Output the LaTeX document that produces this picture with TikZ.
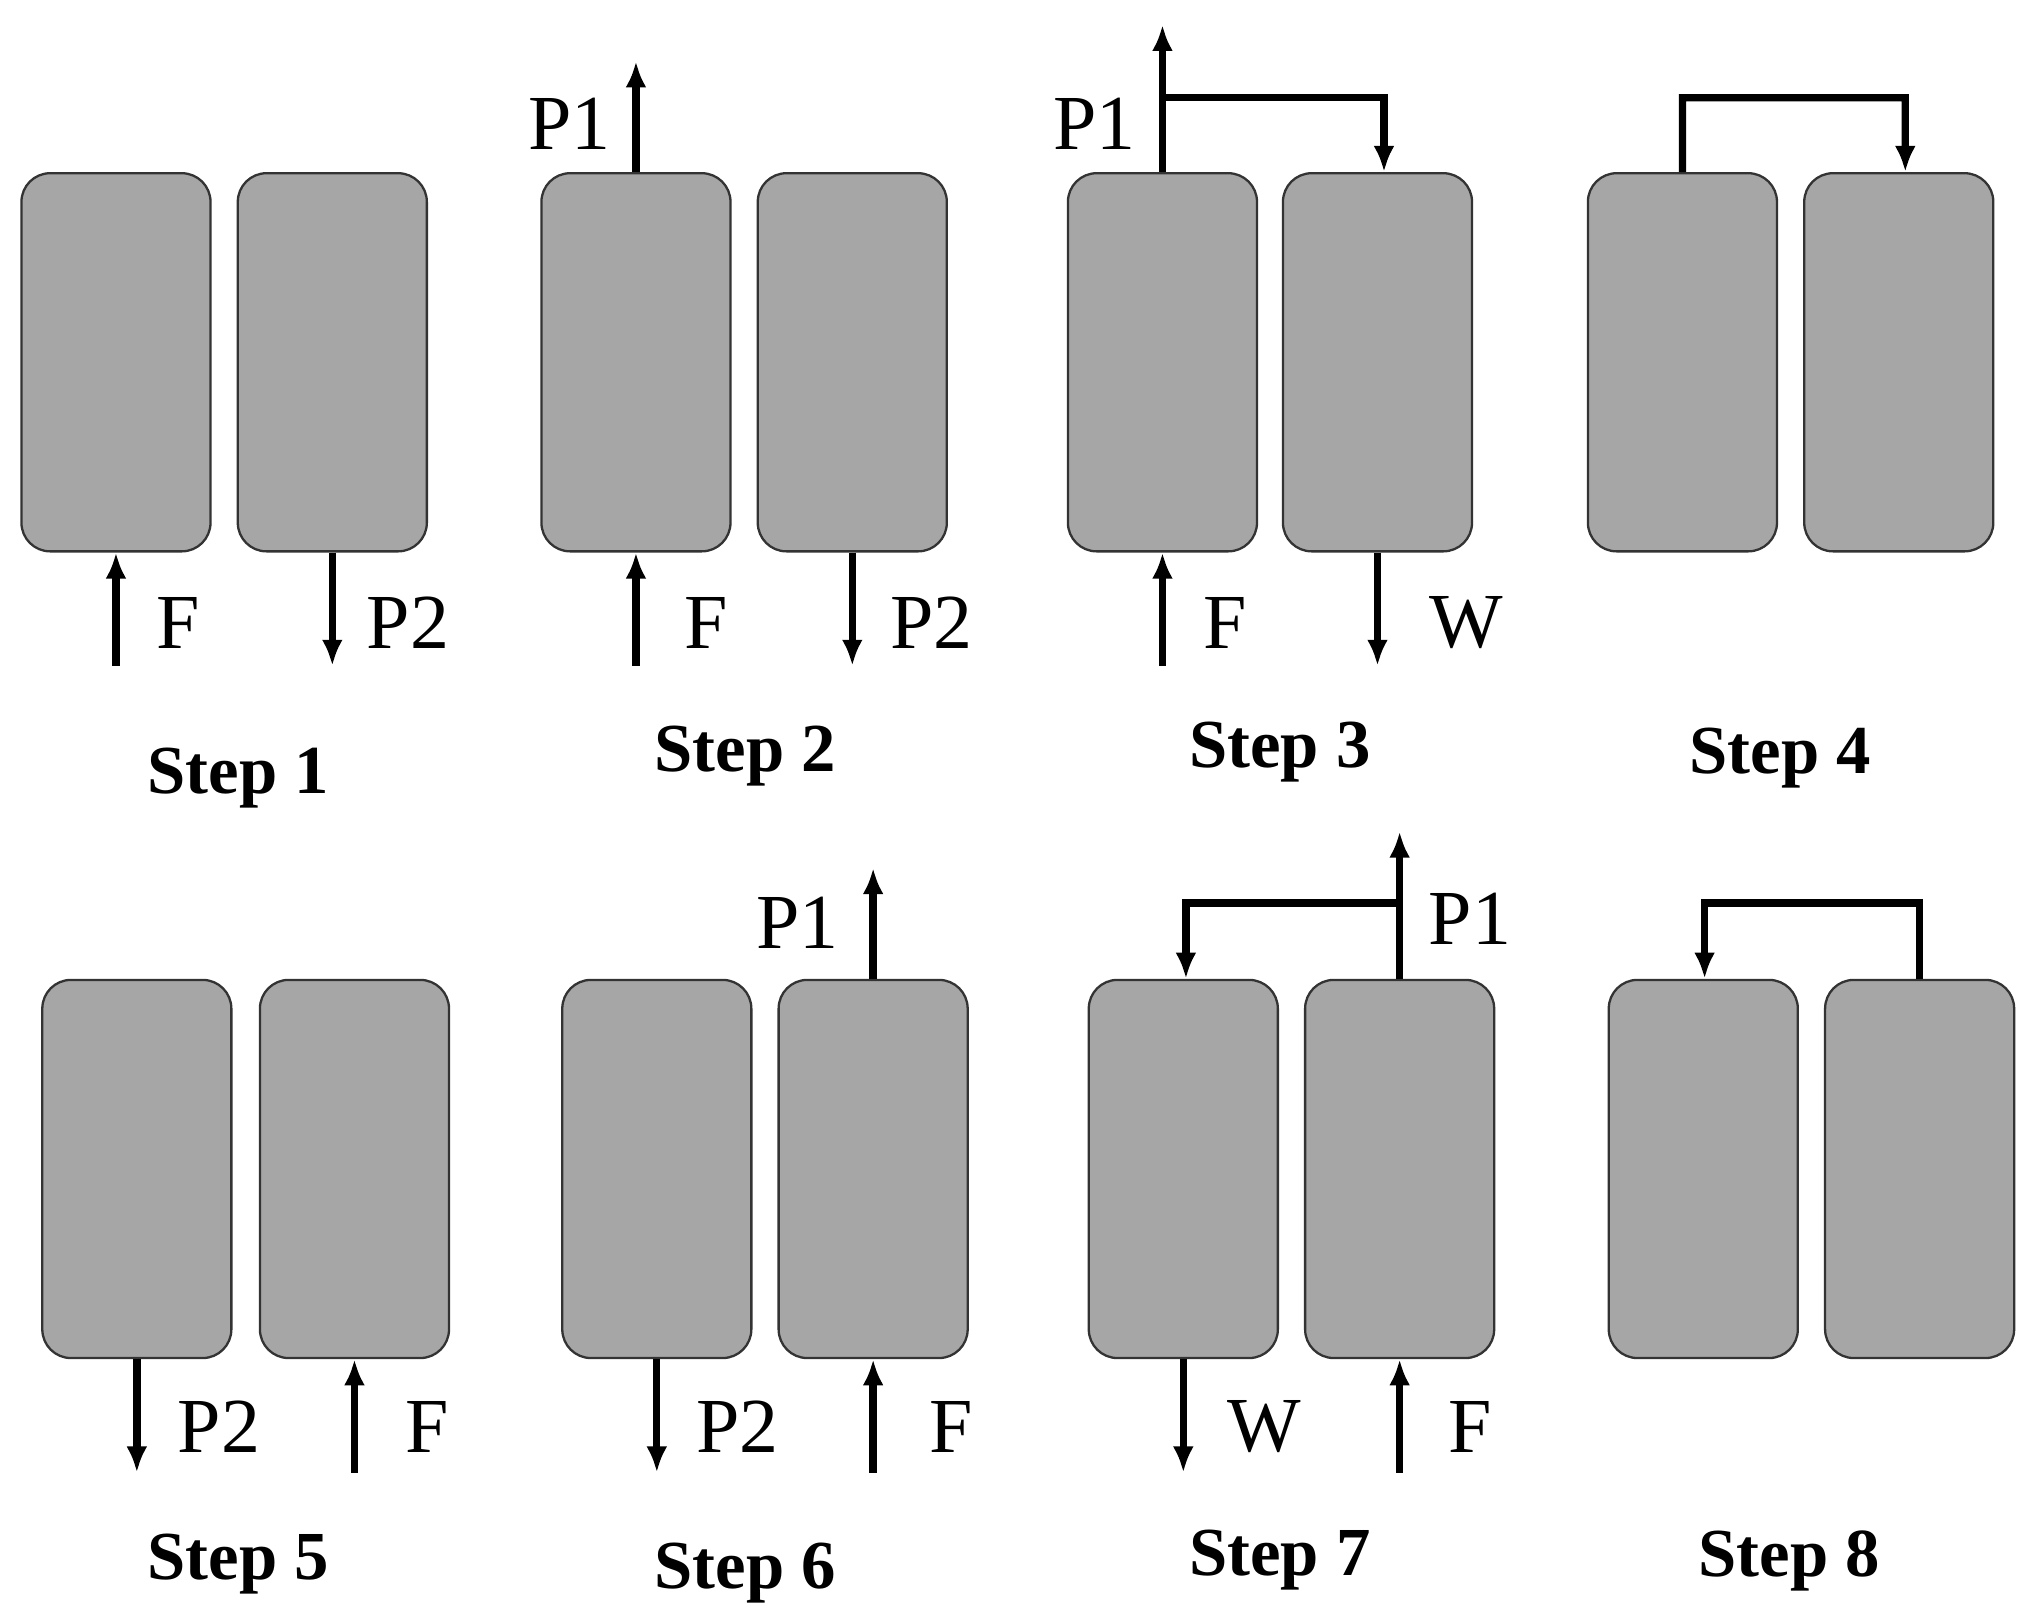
\documentclass[tikz,border=0pt]{standalone}
\usepackage{fontspec}
\setmainfont{Liberation Serif}
\usetikzlibrary{arrows.meta}
\begin{document}
\begin{tikzpicture}[x=0.01cm,y=-0.01cm,
  box/.style={draw=black!80,line width=0.5pt,fill=black!35,rounded corners=0.22cm,minimum width=1.45cm,minimum height=2.9cm,inner sep=0pt},
  flow/.style={line width=1.6pt,-{Latex[length=0.2cm,width=0.16cm]}},
  pipe/.style={line width=1.6pt},
  lab/.style={font=\fontsize{17pt}{19pt}\selectfont,inner sep=0pt},
  steplab/.style={font=\bfseries\fontsize{15pt}{17pt}\selectfont,inner sep=0pt}]
\useasboundingbox (0,0) rectangle (1560,1243);
% Row 1
\node[box] (s1a) at (89,278) {};  \node[box] (s1b) at (255,278) {};
\node[box] (s2a) at (488,278) {}; \node[box] (s2b) at (654,278) {};
\node[box] (s3a) at (892,278) {}; \node[box] (s3b) at (1057,278) {};
\node[box] (s4a) at (1291,278) {};\node[box] (s4b) at (1457,278) {};
% Row 2
\node[box] (s5a) at (105,897) {}; \node[box] (s5b) at (272,897) {};
\node[box] (s6a) at (504,897) {}; \node[box] (s6b) at (670,897) {};
\node[box] (s7a) at (908,897) {}; \node[box] (s7b) at (1074,897) {};
\node[box] (s8a) at (1307,897) {};\node[box] (s8b) at (1473,897) {};
% Step 1
\draw[flow] ([yshift=-0.87cm]s1a.south) -- (s1a.south);
\draw[flow] (s1b.south) -- ++(0,87);
\node[lab] (f1) at (137,478) {F}; \node[lab] (p21) at (313,478) {P2};
% Step 2
\draw[flow] ([yshift=-0.87cm]s2a.south) -- (s2a.south);
\draw[flow] (s2b.south) -- ++(0,87);
\draw[flow] (s2a.north) -- ++(0,-85);
\node[lab] (f2) at (542,478) {F}; \node[lab] (p22) at (715,478) {P2};
\node[lab] (p12) at (437,95) {P1};
% Step 3
\draw[flow] ([yshift=-0.87cm]s3a.south) -- (s3a.south);
\draw[flow] (s3b.south) -- ++(0,87);
\draw[flow] (s3a.north) -- ++(0,-113);
\draw[flow] (892,75) -| ([xshift=0.05cm]s3b.north);
\node[lab] (f3) at (940,478) {F}; \node[lab] (w3) at (1125,478) {W};
\node[lab] (p13) at (840,95) {P1};
% Step 4
\draw[flow] (s4a.north) |- (1462,75) -- ([xshift=0.05cm]s4b.north);
% Step 5
\draw[flow] (s5a.south) -- ++(0,87);
\draw[flow] ([yshift=-0.87cm]s5b.south) -- (s5b.south);
\node[lab] (p25) at (168,1095) {P2}; \node[lab] (f5) at (328,1095) {F};
% Step 6
\draw[flow] (s6a.south) -- ++(0,87);
\draw[flow] ([yshift=-0.87cm]s6b.south) -- (s6b.south);
\draw[flow] (s6b.north) -- ++(0,-85);
\node[lab] (p26) at (566,1095) {P2}; \node[lab] (f6) at (730,1095) {F};
\node[lab] (p16) at (612,708) {P1};
% Step 7
\draw[flow] (s7a.south) -- ++(0,87);
\draw[flow] ([yshift=-0.87cm]s7b.south) -- (s7b.south);
\draw[flow] (s7b.north) -- ++(0,-113);
\draw[flow] (1074,693) -| ([xshift=0.02cm]s7a.north);
\node[lab] (w7) at (970,1095) {W}; \node[lab] (f7) at (1128,1095) {F};
\node[lab] (p17) at (1128,705) {P1};
% Step 8
\draw[flow] (s8b.north) |- (1308,693) -- ([xshift=0.01cm]s8a.north);
% Step labels
\node[steplab] (t1) at (183,597) {Step 1};
\node[steplab] (t2) at (572,580) {Step 2};
\node[steplab] (t3) at (982,577) {Step 3};
\node[steplab] (t4) at (1366,582) {Step 4};
\node[steplab] (t5) at (183,1200) {Step 5};
\node[steplab] (t6) at (572,1207) {Step 6};
\node[steplab] (t7) at (982,1197) {Step 7};
\node[steplab] (t8) at (1373,1198) {Step 8};
\end{tikzpicture}
\end{document}
